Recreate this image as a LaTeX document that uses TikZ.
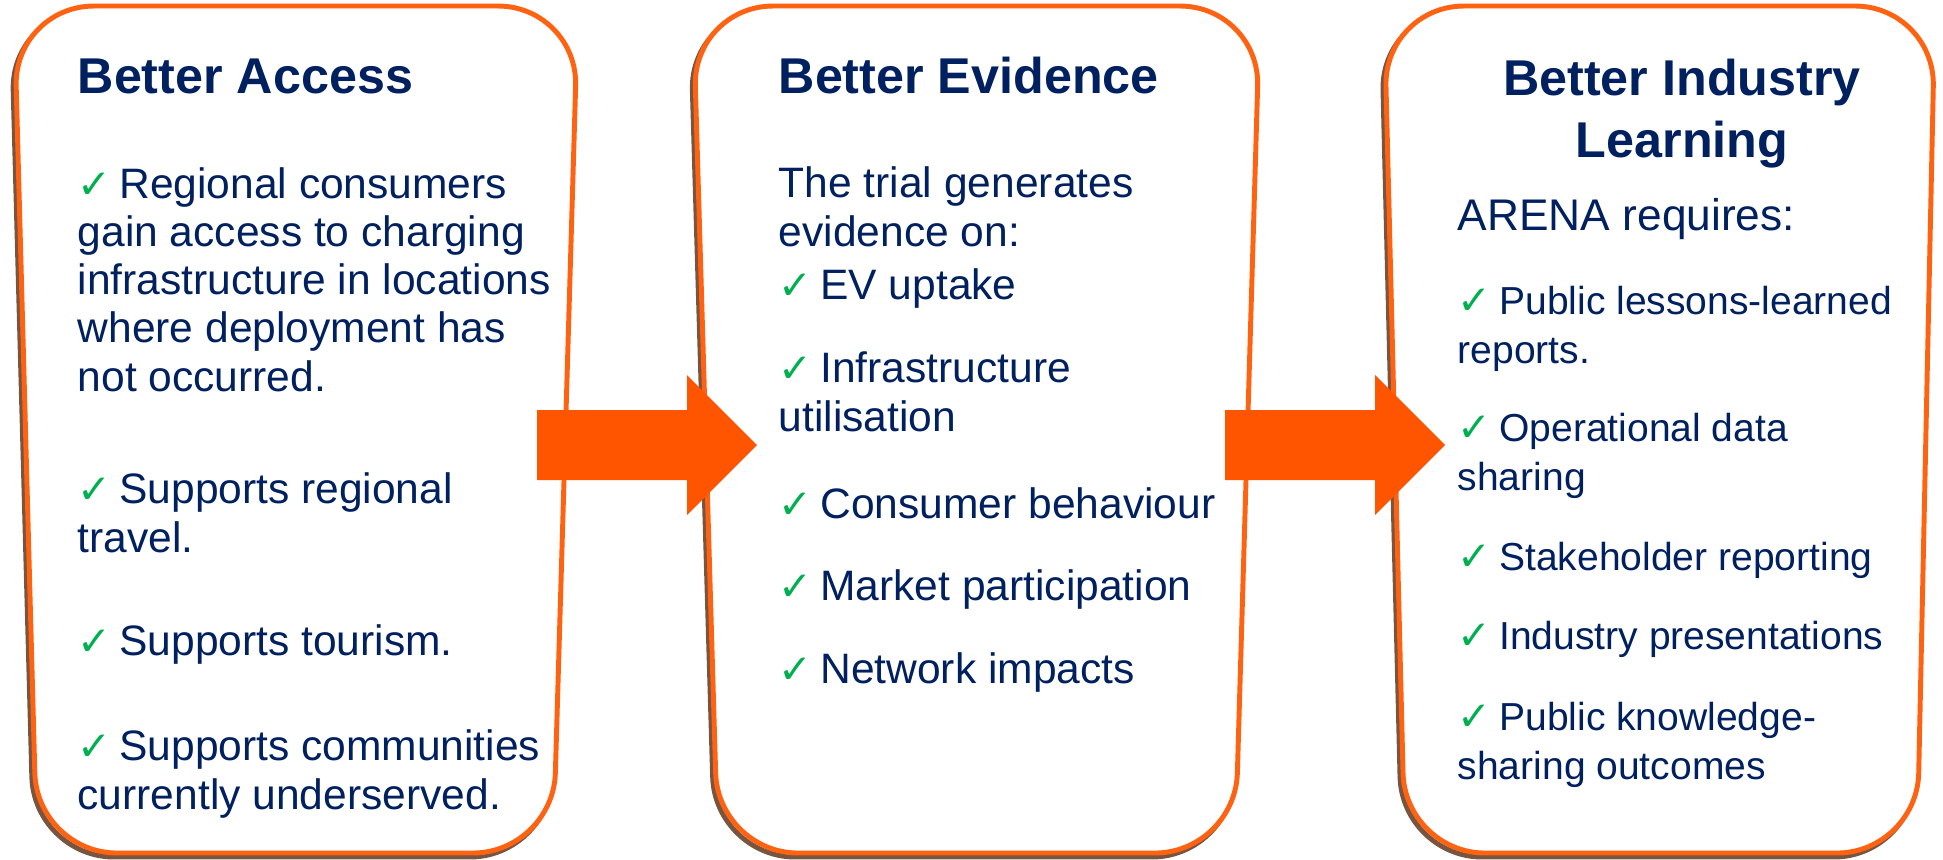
\documentclass[tikz,border=0pt]{standalone}
\usepackage{fontspec}
\setmainfont{Liberation Sans}
\newfontfamily\tickfont{DejaVu Sans}
\usepackage{xcolor}
\usepackage{tikz}

\definecolor{navy}{HTML}{002060}
\definecolor{tickgreen}{HTML}{00B050}
\definecolor{flame}{HTML}{FF5500}
\definecolor{rim}{HTML}{FF6210}
\definecolor{rimshade}{HTML}{4A1C00}

\newcommand{\bodyfont}{\fontsize{12.1}{13.7}\selectfont}
\newcommand{\smallbodyfont}{\fontsize{11.1}{13.7}\selectfont}
\newcommand{\headfont}{\fontsize{14.3}{17.6}\selectfont\bfseries}
\newcommand{\tick}{{\tickfont\color{tickgreen}\fontsize{11.5}{10}\selectfont ✓}\hspace{2.2pt}}

\begin{document}
\begin{tikzpicture}[x=0.01cm, y=-0.01cm,
    panel/.style={draw=rim, line width=1.4pt, fill=white, rounded corners=0.8cm},
    panelshade/.style={draw=rimshade, line width=1.4pt, rounded corners=0.8cm, opacity=0.75},
    bigarrow/.style={fill=flame}]

\useasboundingbox (0,0) rectangle (1943,859);

% panels
\begin{scope}[shift={(-3,4)}]
    \draw[panelshade] (296,6) -- (578,6) -- (553,853) -- (37,853) -- (14,6) -- cycle;
    \draw[panelshade] (976,6) -- (1260,6) -- (1235,853) -- (718,853) -- (693,6) -- cycle;
    \draw[panelshade] (1660,6) -- (1935,6) -- (1917,853) -- (1405,853) -- (1384,6) -- cycle;
\end{scope}
\draw[panel] (296,6) -- (578,6) -- (553,853) -- (37,853) -- (14,6) -- cycle;
\draw[panel] (976,6) -- (1260,6) -- (1235,853) -- (718,853) -- (693,6) -- cycle;
\draw[panel] (1660,6) -- (1935,6) -- (1917,853) -- (1405,853) -- (1384,6) -- cycle;

% arrows
\fill[bigarrow] (537,410) -- (687,410) -- (687,375) -- (757,445) -- (687,515) -- (687,480) -- (537,480) -- cycle;
\fill[bigarrow] (1225,410) -- (1375,410) -- (1375,375) -- (1445,445) -- (1375,515) -- (1375,480) -- (1225,480) -- cycle;

% texts (base = last line)
\begin{scope}[every node/.style={anchor=base west, inner sep=0pt, text=navy,
    align=left, font=\bodyfont}]

    % access
    \node[font=\headfont] (accessHead) at (77,93) {Better Access};
    \node (accessA) at (77,391) {\tick Regional consumers\\gain access to charging\\infrastructure in locations\\where deployment has\\not occurred.};
    \node (accessB) at (77,552) {\tick Supports regional\\travel.};
    \node (accessC) at (77,655) {\tick Supports tourism.};
    \node (accessD) at (77,809) {\tick Supports communities\\currently underserved.};

    % evidence
    \node[font=\headfont] (evidenceHead) at (778,93) {Better Evidence};
    \node (evidenceIntro) at (778,246) {The trial generates\\evidence on:};
    \node (evidenceA) at (778,299) {\tick EV uptake};
    \node (evidenceB) at (778,431) {\tick Infrastructure\\utilisation};
    \node (evidenceC) at (778,518) {\tick Consumer behaviour};
    \node (evidenceD) at (778,600) {\tick Market participation};
    \node (evidenceE) at (778,683) {\tick Network impacts};

    % learning
    \node[font=\headfont, anchor=base, align=center] (learningHead) at (1682,157) {Better Industry\\Learning};
    \node[font=\fontsize{12.6}{14}\selectfont] (learningIntro) at (1457,230) {ARENA requires:};
    \node[font=\smallbodyfont] (learningA) at (1457,363) {\tick Public lessons-learned\\reports.};
    \node[font=\smallbodyfont] (learningB) at (1457,490) {\tick Operational data\\sharing};
    \node[font=\smallbodyfont] (learningC) at (1457,570) {\tick Stakeholder reporting};
    \node[font=\smallbodyfont] (learningD) at (1457,649) {\tick Industry presentations};
    \node[font=\smallbodyfont] (learningE) at (1457,779) {\tick Public knowledge-\\sharing outcomes};
\end{scope}
\end{tikzpicture}
\end{document}
